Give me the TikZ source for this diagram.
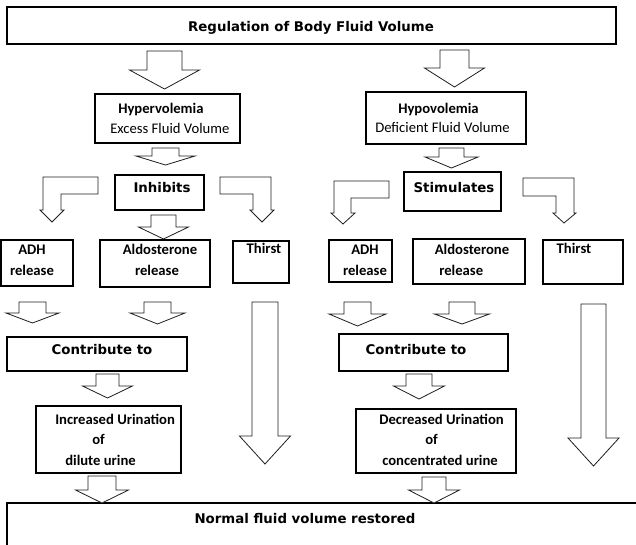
\documentclass[tikz,border=0pt]{standalone}
\usepackage{fontspec}
\setmainfont{Carlito}
\newfontfamily\verdfont{DejaVu Sans}
\usetikzlibrary{fit}

% hollow block arrow pointing down: x, top, neck, tip, shaft half width, head half width
\newcommand{\blockdown}[6]{%
  \draw[blockarrow] ({#1-#5},#2) -- ({#1+#5},#2) -- ({#1+#5},#3) -- ({#1+#6},#3)
    -- (#1,#4) -- ({#1-#6},#3) -- ({#1-#5},#3) -- cycle;}

\begin{document}
\begin{tikzpicture}[x=0.75pt,y=-0.75pt]
  % colours
  \definecolor{lineColor}{RGB}{30,30,30}

  % common styles
  \tikzset{
    box/.style={draw=black, line width=1.1pt, inner sep=0pt},
    blockarrow/.style={draw=lineColor, line width=0.6pt, fill=white, line join=miter},
    txt/.style={inner sep=0pt, font=\fontsize{11}{13}\selectfont},
    btxt/.style={txt, font=\fontsize{11}{13}\selectfont\bfseries},
    vtxt/.style={inner sep=0pt, font=\verdfont\fontsize{10}{12}\selectfont\bfseries}
  }

  \useasboundingbox (0,0) rectangle (636,544);

  % boxes
  \node[box, fit={(7,7) (616,44)}]     (reg) {};
  \node[box, fit={(95,94) (240,143)}]  (hyper) {};
  \node[box, fit={(366,92) (526,144)}] (hypo) {};
  \node[box, fit={(115,175) (204,210)}] (inhib) {};
  \node[box, fit={(404,172) (501,211)}] (stim) {};
  \node[box, fit={(1,240) (73,286)}]    (adhL) {};
  \node[box, fit={(100,240) (210,287)}] (aldoL) {};
  \node[box, fit={(233,241) (289,283)}] (thirstL) {};
  \node[box, fit={(329,240) (392,282)}] (adhR) {};
  \node[box, fit={(413,239) (525,284)}] (aldoR) {};
  \node[box, fit={(543,240) (623,284)}] (thirstR) {};
  \node[box, fit={(7,337) (187,371)}]   (contL) {};
  \node[box, fit={(339,334) (508,371)}] (contR) {};
  \node[box, fit={(36,406) (181,473)}]  (incr) {};
  \node[box, fit={(356,409) (516,473)}] (decr) {};
  \node[box, fit={(7,503) (660,570)}]   (normal) {};

  % texts
  \node[vtxt, anchor=base] (regtxt) at (311,31) {Regulation of Body Fluid Volume};
  \node[btxt, anchor=base west] (hypertop) at (118,113) {Hypervolemia};
  \node[txt, anchor=base west]  (hypersub) at (110,133) {Excess Fluid Volume};
  \node[btxt, anchor=base west] (hypotop) at (398,113) {Hypovolemia};
  \node[txt, anchor=base west]  (hyposub) at (375,132) {Deficient Fluid Volume};
  \node[vtxt, anchor=base] (inhibtxt) at (162,192) {Inhibits};
  \node[vtxt, anchor=base] (stimtxt) at (454,192) {Stimulates};
  \node[btxt, anchor=base] (adhLa) at (32,254) {ADH};
  \node[btxt, anchor=base] (adhLb) at (32,275) {release};
  \node[btxt, anchor=base] (aldoLa) at (160,254) {Aldosterone};
  \node[btxt, anchor=base] (aldoLb) at (157,275) {release};
  \node[btxt, anchor=base] (thirstLa) at (264,253) {Thirst};
  \node[btxt, anchor=base] (adhRa) at (365,254) {ADH};
  \node[btxt, anchor=base] (adhRb) at (365,275) {release};
  \node[btxt, anchor=base] (aldoRa) at (472,254) {Aldosterone};
  \node[btxt, anchor=base west] (aldoRb) at (439,275) {release};
  \node[btxt, anchor=base] (thirstRa) at (574,253) {Thirst};
  \node[vtxt, anchor=base] (contLtxt) at (102,354) {Contribute to};
  \node[vtxt, anchor=base] (contRtxt) at (416,354) {Contribute to};
  \node[btxt, anchor=base west] (incra) at (55,424) {Increased Urination};
  \node[btxt, anchor=base west] (incrb) at (92,444) {of};
  \node[btxt, anchor=base west] (incrc) at (65,465) {dilute urine};
  \node[btxt, anchor=base west] (decra) at (379,424) {Decreased Urination};
  \node[btxt, anchor=base west] (decrb) at (425,444) {of};
  \node[btxt, anchor=base west] (decrc) at (382,465) {concentrated urine};
  \node[vtxt, anchor=base] (normaltxt) at (305,523) {Normal fluid volume restored};

  % block arrows, left side
  \blockdown{164.5}{51}{70}{89}{17.5}{35}
  \blockdown{165.5}{148}{156}{165}{13.5}{29.5}
  \blockdown{163.5}{215}{227}{239}{12.5}{25}
  \blockdown{32.5}{302}{313}{323}{13.5}{26.5}
  \blockdown{157.5}{302}{313}{324}{13.5}{27.5}
  \blockdown{107.5}{374}{386}{398}{11.5}{25}
  \blockdown{102}{476}{490}{503}{14}{26.5}
  \blockdown{265}{302}{436}{464}{13}{25.5}
  % block arrows, right side
  \blockdown{454.5}{50}{68}{87}{14.5}{30}
  \blockdown{451.5}{148}{157}{168}{12.5}{26.5}
  \blockdown{357.5}{302}{314}{326}{13.5}{28.5}
  \blockdown{462}{302}{314}{324}{13}{27.5}
  \blockdown{419}{374}{386}{399}{13}{25.5}
  \blockdown{434}{477}{490}{503}{12}{25.5}
  \blockdown{593.5}{304}{438}{466}{12.5}{25.5}

  % bent arrows
  \draw[blockarrow] (98,177) -- (43,177) -- (43,210) -- (40,210) -- (52,222)
    -- (64,210) -- (61,210) -- (61,194) -- (98,194) -- cycle;
  \draw[blockarrow] (220,177) -- (271,177) -- (271,210) -- (274,210) -- (262,222)
    -- (250,210) -- (253,210) -- (253,194) -- (220,194) -- cycle;
  \draw[blockarrow] (389,181) -- (334,181) -- (334,213) -- (331,213) -- (343,224)
    -- (355,213) -- (351,213) -- (351,198) -- (389,198) -- cycle;
  \draw[blockarrow] (523,178) -- (574,178) -- (574,213) -- (576,213) -- (564,223)
    -- (553,213) -- (556,213) -- (556,196) -- (523,196) -- cycle;
\end{tikzpicture}
\end{document}
